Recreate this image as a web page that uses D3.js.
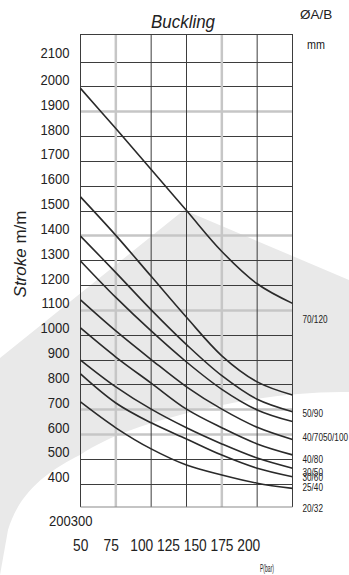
<!DOCTYPE html>
<html>
<head>
<meta charset="utf-8">
<script src="https://cdn.jsdelivr.net/npm/d3@7"></script>
<style>
  body { margin: 0; background: #fff; }
  svg { display: block; }
</style>
</head>
<body>
<script>
// pressure (bar) at each grid column
var pressures = [50, 75, 100, 125, 150, 175, 200];
// stroke values, top curve first
var c70_120 = [1992, 1830, 1665, 1500, 1335, 1205, 1126];
var c50_90  = [1555, 1400, 1235, 1070, 915, 810, 757];
var c40_70  = [1397, 1250, 1100, 960, 835, 740, 690];
var c50_100 = [1297, 1150, 1015, 890, 780, 697, 650];
var c40_80  = [1140, 1015, 900, 790, 700, 627, 578];
var c30_50  = [1027, 910, 805, 700, 625, 560, 516];
var c30_60  = [898, 790, 700, 625, 560, 503, 462];
var c25_40  = [842, 725, 645, 580, 515, 462, 428];
var c20_32  = [729, 625, 540, 475, 435, 402, 381];
var curves = [c70_120, c50_90, c40_70, c50_100, c40_80, c30_50, c30_60, c25_40, c20_32];

var yTicks = [2100, 2000, 1900, 1800, 1700, 1600, 1500, 1400, 1300, 1200, 1100, 1000, 900, 800, 700, 600, 500, 400];
var xTickText = "50    75   100 125 150 175 200";
var sizeLabels = ["70/120", "50/90", "40/7050/100", "40/80", "30/50", "30/60", "25/40", "20/32"];
// where each size label sits, in stroke units
var sizeLabelAt = [1046, 669, 572, 483, 431, 411, 369, 286];

var W = 349, H = 575;
var gridTop = 34, gridBottom = 507;
var dark = "#3d3d3d", faint = "#c6c6c6";

var svg = d3.select("body").append("svg")
	.attr("width", W)
	.attr("height", H)
	.style("font-family", "'Liberation Sans', Arial, sans-serif");

// watermark
svg.append("path")
	.attr("d", "M0,358 L184,210 L349,280 L349,392 C300,391 240,400 200,410 C150,422 110,435 80,455 C50,470 20,490 8,530 L0,575 Z")
	.attr("fill", "#e9e9e9");

var x = d3.scaleLinear().domain([50, 200]).range([80.5, 292.5]);
var y = d3.scaleLinear().domain([300, 2200]).range([508.5, 36.7]);

// grid
var faintY = [1900, 1400, 1100, 700, 600];
var faintX = [75, 150];

svg.append("g").selectAll("line").data(yTicks).enter()
	.append("line")
	.attr("x1", x(50)).attr("x2", x(200))
	.attr("y1", d => Math.round(y(d)) + 0.5).attr("y2", d => Math.round(y(d)) + 0.5)
	.attr("stroke", d => faintY.includes(d) ? faint : dark)
	.attr("stroke-width", d => faintY.includes(d) ? 2.5 : 1);

svg.append("g").selectAll("line").data(pressures).enter()
	.append("line")
	.attr("x1", d => x(d)).attr("x2", d => x(d))
	.attr("y1", gridTop).attr("y2", gridBottom)
	.attr("stroke", d => faintX.includes(d) ? faint : dark)
	.attr("stroke-width", d => faintX.includes(d) ? 2.5 : 1);

// frame top / bottom
svg.append("line").attr("x1", x(50)).attr("x2", x(200)).attr("y1", gridTop + 0.5).attr("y2", gridTop + 0.5)
	.attr("stroke", dark);
svg.append("line").attr("x1", x(50)).attr("x2", x(200)).attr("y1", gridBottom).attr("y2", gridBottom)
	.attr("stroke", "#8a8a8a").attr("stroke-width", 1.2);

// curves
var line = d3.line()
	.x((d, i) => x(pressures[i]))
	.y(d => y(d))
	.curve(d3.curveCatmullRom.alpha(0.5));

svg.append("g").selectAll("path").data(curves).enter()
	.append("path")
	.attr("d", line)
	.attr("fill", "none")
	.attr("stroke", "#2a2a2a")
	.attr("stroke-width", 1.6);

// squeezed text helper
function label(txt, tx, ty, size, sx, anchor) {
	return svg.append("text")
		.attr("transform", "translate(" + tx + "," + ty + ") scale(" + sx + ",1)")
		.attr("font-size", size)
		.attr("text-anchor", anchor || "start")
		.attr("fill", "#222")
		.style("white-space", "pre")
		.text(txt);
}

// y tick labels
yTicks.forEach(v => label(v, 69.5, y(v) - (v == 2100 ? 4 : 1.5), 14, 0.93, "end"));
label("200300", 49, 526, 14, 0.93);

// x tick labels
label(xTickText, 73, 551, 16, 0.86);
label("P(bar)", 260, 572, 11, 0.46);

// title + axis title
label("Buckling", 183, 28, 18, 0.94, "middle").attr("font-style", "italic");
var yt = svg.append("text")
	.attr("transform", "translate(25.5,254) rotate(-90)")
	.attr("text-anchor", "middle")
	.attr("font-size", 17)
	.attr("fill", "#222");
yt.append("tspan").attr("font-style", "italic").text("Stroke");
yt.append("tspan").text(" m/m");

// size labels
label("\u00d8A/B", 300, 19, 13.5, 1);
label("mm", 307, 49, 13, 0.83);
sizeLabels.forEach((s, i) => label(s, 302.5, y(sizeLabelAt[i]), 10, 0.82));
</script>
</body>
</html>
